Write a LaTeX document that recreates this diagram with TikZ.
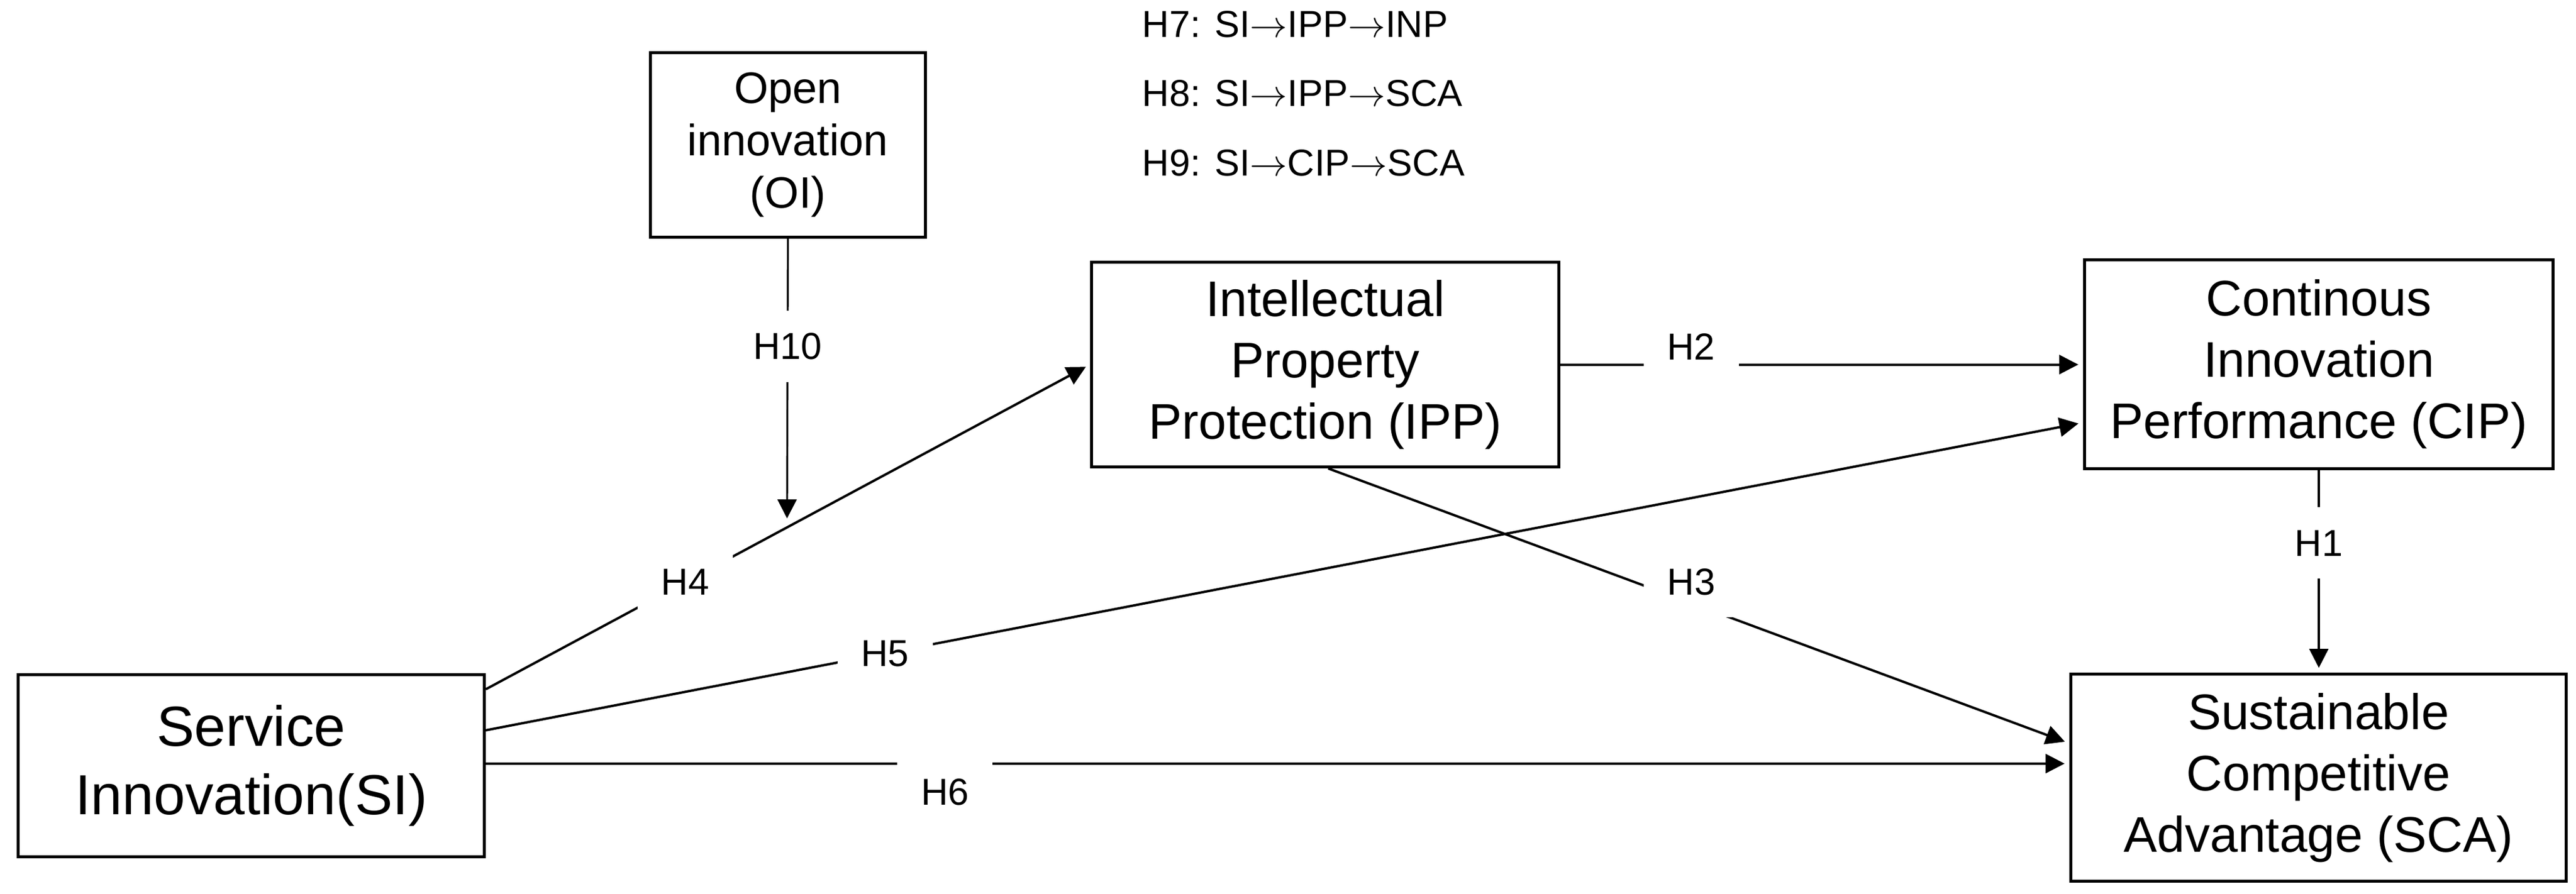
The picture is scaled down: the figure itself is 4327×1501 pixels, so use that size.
\RequirePackage{fix-cm}
\documentclass[tikz,border=0pt]{standalone}
\usepackage{fontspec}
\setmainfont{Liberation Sans}
\usetikzlibrary{arrows.meta,calc}
\newcommand{\harr}{\ensuremath{\rightarrow}}
\begin{document}
\begin{tikzpicture}[x=0.25pt,y=-0.25pt]
\tikzset{
  box/.style={draw, line width=1.25pt, align=center, inner sep=0pt},
  bigtxt/.style={font=\fontsize{23.75}{28.75}\selectfont},
  midtxt/.style={font=\fontsize{21}{25.75}\selectfont},
  smalltxt/.style={font=\fontsize{18.5}{22}\selectfont},
  lab/.style={fill=white, inner sep=0pt, minimum width=40pt, minimum height=30pt, font=\fontsize{15.75}{18}\selectfont},
  htxt/.style={inner sep=0pt, font=\fontsize{15.75}{18}\selectfont},
  conn/.style={line width=1pt, -{Triangle[length=8pt,width=8pt]}, shorten >=2pt},
  vconn/.style={line width=0.8pt, -{Triangle[length=8pt,width=8pt]}},
}
\useasboundingbox (0,0) rectangle (4327,1501);
% boxes
\node[box, bigtxt, minimum width=195.75pt, minimum height=76.5pt] (SI) at (422,1286.5) {Service\\Innovation(SI)};
\node[box, smalltxt, minimum width=115.5pt, minimum height=77.5pt] (OI) at (1323.5,243.5) {Open\\innovation\\(OI)};
\node[box, midtxt, minimum width=196.25pt, minimum height=86pt] (IPP) at (2226,612.5) {Intellectual\\Property\\Protection (IPP)};
\node[box, midtxt, minimum width=196.75pt, minimum height=87.75pt] (CIP) at (3895,612) {Continous\\Innovation\\Performance (CIP)};
\node[box, midtxt, minimum width=208pt, minimum height=87pt] (SCA) at (3894.5,1306.5) {Sustainable\\Competitive\\Advantage (SCA)};
% mediation hypotheses
\node[htxt, anchor=base west] (t7) at (1918,62) {H7: SI\harr IPP\harr INP};
\node[htxt, anchor=base west] (t8) at (1918,178) {H8: SI\harr IPP\harr SCA};
\node[htxt, anchor=base west] (t9) at (1918,295) {H9: SI\harr CIP\harr SCA};
% connectors
\draw[conn] ([yshift=-6.75pt]SI.north east) -- node[lab,pos=0.33]{H4} (IPP.west);
\draw[conn] ([yshift=14.9pt]SI.east) -- node[lab,pos=0.25]{H5} ([yshift=-24.5pt]CIP.west);
\draw[conn] ([yshift=0.9pt]SI.east) -- node[lab,pos=0.29,yshift=-12pt]{H6} ([yshift=5.9pt]SCA.west);
\draw[conn] (IPP.east) -- node[lab,pos=0.25,yshift=7.5pt]{H2} (IPP.east -| CIP.west);
\draw[conn] ([xshift=1.25pt]IPP.south) -- node[lab,pos=0.49,yshift=9pt]{H3} ([yshift=14.4pt]SCA.west);
\coordinate (oiend) at (1322,871);
\draw[vconn] (OI.south) -- node[lab,pos=0.385]{H10} (oiend);
\draw[vconn, shorten >=2pt] (CIP.south) -- node[lab,pos=0.36]{H1} (CIP.south |- SCA.north);
\end{tikzpicture}
\end{document}
